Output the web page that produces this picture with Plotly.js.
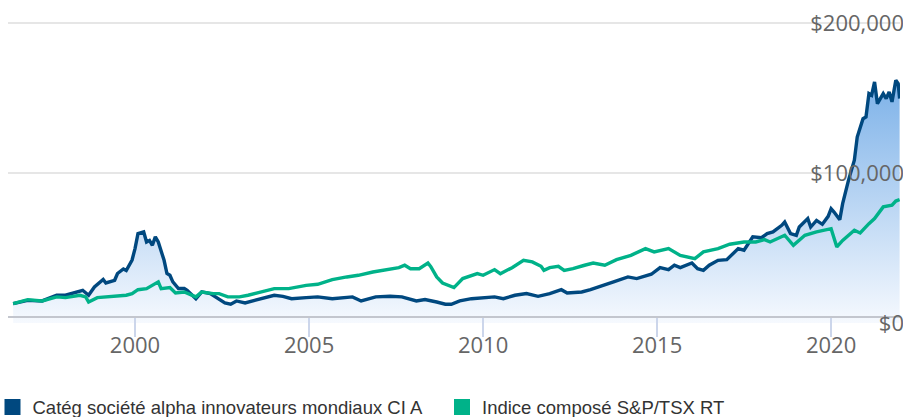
<!DOCTYPE html>
<html>
<head>
<meta charset="utf-8">
<script src="https://cdn.plot.ly/plotly-3.0.1.min.js"></script>
<style>
html,body{margin:0;padding:0;overflow:hidden;background:#fff;}
#chart{width:906px;height:417px;}
</style>
</head>
<body>
<div id="chart"></div>
<script>
// ---- Data (values in $) ----
const fundName = "Catég société alpha innovateurs mondiaux CI A";
const indexName = "Indice composé S&P/TSX RT";

const fundDates = ["1996-07","1996-12","1997-05","1997-10","1998-01","1998-04","1998-07","1998-09","1998-11",
"1999-02","1999-03","1999-06","1999-07","1999-09","1999-10","1999-12","2000-01","2000-02","2000-04","2000-05",
"2000-06","2000-07","2000-08","2000-09","2000-11","2000-12","2001-01","2001-02","2001-04","2001-06","2001-07",
"2001-10","2001-12","2002-03","2002-06","2002-08","2002-10","2002-12","2003-03","2003-07","2003-10","2004-01",
"2004-04","2004-07","2004-12","2005-04","2005-09","2006-02","2006-04","2006-07","2006-12","2007-05","2007-09",
"2008-02","2008-05","2008-09","2008-12","2009-02","2009-05","2009-09","2010-01","2010-05","2010-08","2010-12",
"2011-04","2011-08","2011-12","2012-04","2012-06","2012-11","2013-02","2013-06","2013-10","2014-03","2014-06",
"2014-11","2015-02","2015-05","2015-07","2015-09","2016-01","2016-03","2016-05","2016-07","2016-10","2017-01",
"2017-05","2017-07","2017-10","2018-01","2018-03","2018-05","2018-08","2018-09","2018-11","2019-01","2019-02",
"2019-05","2019-06","2019-08","2019-10","2019-12","2020-01","2020-02","2020-04","2020-05","2020-07","2020-09",
"2020-10","2020-12","2021-01","2021-02","2021-03","2021-04","2021-05","2021-07","2021-08","2021-09","2021-10",
"2021-11-10","2021-12-05","2021-12-20"];
const fundValues = [12900,15100,14700,18500,18500,20000,21800,18500,24000,
29000,26700,28500,33000,36000,35000,42000,49600,59600,60700,54000,
55000,51800,57400,54000,41800,33000,31800,27400,23000,23000,21800,
16200,20700,19600,16200,13400,12500,14700,13400,15600,16900,18500,
17800,16200,16900,17400,16200,16900,17400,14700,17400,17800,17400,
14700,15600,14000,12500,12500,14700,16200,16900,17400,16200,18500,
19600,17800,19600,22200,20000,20700,22200,24500,27400,30700,29600,
32500,36900,35600,38500,36900,40000,36200,35100,38500,41800,42200,
49600,48500,57400,56900,59600,60700,65100,67300,59600,58400,64000,
69600,64000,68400,65800,71100,76200,74000,68900,79600,95100,108500,
124000,136200,137400,152900,151800,160700,146200,152900,149600,154000,147400,
161800,159600,149600];

const indexDates = ["1996-07","1996-12","1997-05","1997-10","1998-01","1998-06","1998-08","1998-09","1998-12",
"1999-05","1999-10","1999-12","2000-02","2000-05","2000-09","2000-10","2001-01","2001-03","2001-06","2001-10",
"2001-12","2002-04","2002-06","2002-09","2003-01","2003-04","2003-09","2004-01","2004-06","2004-12","2005-04",
"2005-09","2006-02","2006-06","2006-11","2007-05","2007-08","2007-10","2007-12","2008-03","2008-06","2008-07",
"2008-09","2008-11","2009-01","2009-03","2009-06","2009-09","2009-11","2010-01","2010-05","2010-07","2010-11",
"2011-03","2011-06","2011-09","2011-10","2011-12","2012-03","2012-05","2012-08","2012-12","2013-03","2013-07",
"2013-11","2014-04","2014-09","2014-12","2015-05","2015-09","2016-02","2016-05","2016-10","2017-02","2017-07",
"2017-11","2018-02","2018-04","2018-09","2018-12","2019-04","2019-08","2020-01","2020-03","2020-05","2020-09",
"2020-11","2021-02","2021-04","2021-07","2021-10","2021-11-10","2021-12-20"];
const indexValues = [12900,15600,14700,17400,16900,18500,17400,14000,16900,
17800,18500,19600,22200,22900,27400,22900,23600,20000,20700,17400,
20700,19600,19600,17400,17400,18500,20700,22900,22900,25100,25800,
28900,30700,31800,34000,36200,36900,38500,36200,36200,40000,37600,
30700,26700,25100,23600,29600,31800,32900,31800,35600,32900,36900,
41800,40700,37800,35100,36900,37800,35100,36200,38500,40000,38500,
42200,45100,49600,47400,49600,45100,42900,47400,49600,52500,54000,
54000,55600,54000,58500,51800,58500,60700,62900,50700,55100,61800,
60000,66200,69600,77400,78500,81300,82200];

const yTickValues = [0, 100000, 200000];
const yTickText = yTickValues.map(v => "$" + v.toLocaleString("en-US"));
const xTickYears = [2000, 2005, 2010, 2015, 2020];

// ---- Styles ----
const blue = "#00487f";
const green = "#00b289";
const labelFont = {family: "Open Sans, sans-serif", size: 22, color: "#666666"};
const legendFont = {family: "Liberation Sans, Arial, sans-serif", size: 18.5, color: "#333333"};

const traces = [
  {
    type: "scatter", mode: "lines", x: fundDates, y: fundValues, name: fundName,
    line: {color: blue, width: 3.4},
    fill: "tozeroy",
    fillgradient: {type: "vertical", start: 0, stop: 165000,
      colorscale: [[0, "rgb(246,249,254)"], [1, "rgb(122,176,232)"]]},
    showlegend: false, hoverinfo: "skip"
  },
  {
    type: "scatter", mode: "lines", x: indexDates, y: indexValues, name: indexName,
    line: {color: green, width: 3.4},
    showlegend: false, hoverinfo: "skip"
  },
  // legend-only entries (no data)
  {type: "scatter", mode: "markers", x: [null], y: [null], name: fundName,
   marker: {symbol: "square", size: 16, color: blue}, showlegend: true, legend: "legend"},
  {type: "scatter", mode: "markers", x: [null], y: [null], name: indexName,
   marker: {symbol: "square", size: 16, color: green}, showlegend: true, legend: "legend2"}
];

const plotW = 896, plotH = 323;
const legendCommon = {
  orientation: "h", xanchor: "left",
  y: -84.5 / plotH, yanchor: "middle",
  font: legendFont, itemclick: false, bgcolor: "rgba(0,0,0,0)"
};
const layout = {
  width: 906, height: 417,
  margin: {l: 8, r: 2, t: 0, b: 94, autoexpand: false},
  paper_bgcolor: "#ffffff", plot_bgcolor: "#ffffff",
  showlegend: true,
  legend: Object.assign({}, legendCommon, {x: -15.5 / plotW}),
  legend2: Object.assign({}, legendCommon, {x: 434 / plotW}),
  xaxis: {
    type: "date",
    domain: [0, 892 / plotW],
    range: ["1996-05-08", "2021-12-24"],
    anchor: "free", position: (plotH - 317) / plotH,
    showgrid: false, zeroline: false,
    showline: true, linecolor: "#c3c6ce", linewidth: 2,
    ticks: "outside", ticklen: 19, tickwidth: 1.5, tickcolor: "#ccd6eb",
    tickvals: xTickYears.map(y => y + "-01-01"),
    ticktext: xTickYears.map(String),
    ticklabelstandoff: -10,
    tickfont: labelFont
  },
  yaxis: {
    range: [0, plotH / 1.5 * 1000],
    side: "left", anchor: "free", position: 1,
    ticklabelposition: "outside",
    tickvals: yTickValues, ticktext: yTickText,
    tickfont: labelFont,
    showgrid: true, gridcolor: "#e6e6e6", gridwidth: 2,
    zeroline: false, showline: false, ticks: ""
  },
  hovermode: false
};

Plotly.newPlot("chart", traces, layout, {staticPlot: true, displayModeBar: false});
</script>
</body>
</html>
